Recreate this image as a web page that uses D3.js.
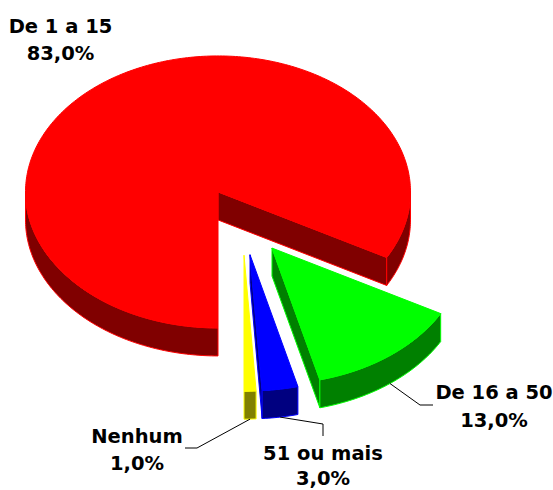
<!DOCTYPE html>
<html>
<head>
<meta charset="utf-8">
<script src="https://cdn.jsdelivr.net/npm/d3@7"></script>
<style>
  html, body { margin: 0; padding: 0; background: #fff; }
  svg { display: block; }
  text { font-family: "DejaVu Sans", sans-serif; font-weight: bold; font-size: 19.5px; fill: #000; }
</style>
</head>
<body>
<script>
// Data
var categories = ["De 1 a 15", "De 16 a 50", "51 ou mais", "Nenhum"];
var values = [83, 13, 3, 1];
var valueLabels = ["83,0%", "13,0%", "3,0%", "1,0%"];
var topColors = ["#ff0000", "#00ff00", "#0000ff", "#ffff00"];
var sideColors = ["#800000", "#008000", "#000080", "#808000"];

var w = 553, h = 490;
var cx = 242.5, cy = 221.2;   // centre of the unexploded pie
var rx = 192.5, ry = 136;     // tilted radii
var depth = 28;
var explode = 0.25;

// where each label goes (x, first baseline, line gap), and the elbow of its leader line
var labelPos = [[60.5, 33, 27], [494, 399, 27.5], [323, 460, 25], [137, 443, 27]];
var leaders = [null, [[420, 405], [433, 405]], [[323, 424], [323, 436]], [[197, 448], [185, 448]]];

var svg = d3.select("body").append("svg")
  .attr("width", w)
  .attr("height", h);

// d3.pie: first slice starts at the bottom, going clockwise
var pie = d3.pie().sort(null).startAngle(Math.PI).endAngle(3 * Math.PI);
var slices = pie(values);

function px(a) { return Math.sin(a) * rx; }
function py(a) { return -Math.cos(a) * ry; }

// sample the rim between two angles
function rim(a0, a1, ox, oy) {
  var n = Math.max(2, Math.ceil(Math.abs(a1 - a0) * 60));
  return d3.range(n + 1).map(function(i) {
    var a = a0 + (a1 - a0) * i / n;
    return [ox + px(a), oy + py(a)];
  });
}

var line = d3.line();

// front part of the outer wall: angles where the rim faces the viewer
function wallParts(a0, a1) {
  var parts = [];
  [[Math.PI / 2, 3 * Math.PI / 2], [5 * Math.PI / 2, 7 * Math.PI / 2]].forEach(function(r) {
    var s = Math.max(a0, r[0]), e = Math.min(a1, r[1]);
    if (e > s) parts.push([s, e]);
  });
  return parts;
}

slices.forEach(function(d, i) {
  var mid = (d.startAngle + d.endAngle) / 2;
  d.ox = cx + explode * px(mid);
  d.oy = cy + explode * py(mid);
});

var g = svg.selectAll("g.slice")
  .data(slices)
  .enter()
  .append("g")
  .attr("class", "slice");

g.each(function(d, i) {
  var s = d3.select(this);

  // cut faces, only the ones turned to the viewer
  [[d.endAngle, Math.sin(d.endAngle) > 0], [d.startAngle, Math.sin(d.startAngle) < -1e-6]].forEach(function(f) {
    if (!f[1]) return;
    var ex = d.ox + px(f[0]), ey = d.oy + py(f[0]);
    s.append("path")
      .attr("d", line([[d.ox, d.oy], [ex, ey], [ex, ey + depth], [d.ox, d.oy + depth]]) + "Z")
      .attr("fill", sideColors[i])
      .attr("stroke", topColors[i])
      .attr("stroke-width", 1);
  });

  // outer wall
  wallParts(d.startAngle, d.endAngle).forEach(function(p) {
    var top = rim(p[0], p[1], d.ox, d.oy);
    var bottom = rim(p[1], p[0], d.ox, d.oy + depth);
    s.append("path")
      .attr("d", line(top.concat(bottom)) + "Z")
      .attr("fill", sideColors[i])
      .attr("stroke", topColors[i])
      .attr("stroke-width", 1);
  });

  // top face
  var pts = [[d.ox, d.oy]].concat(rim(d.startAngle, d.endAngle, d.ox, d.oy));
  s.append("path")
    .attr("d", line(pts) + "Z")
    .attr("fill", topColors[i])
    .attr("stroke", topColors[i])
    .attr("stroke-width", 1);
});

// leader lines start on the bottom rim at the slice's middle angle
slices.forEach(function(d, i) {
  if (!leaders[i]) return;
  var mid = (d.startAngle + d.endAngle) / 2;
  var start = [d.ox + px(mid), d.oy + py(mid) + depth];
  svg.append("path")
    .attr("d", line([start].concat(leaders[i])))
    .attr("fill", "none")
    .attr("stroke", "#000")
    .attr("stroke-width", 1);
});

// labels
categories.forEach(function(c, i) {
  var t = svg.append("text")
    .attr("text-anchor", "middle")
    .attr("x", labelPos[i][0])
    .attr("y", labelPos[i][1]);
  t.append("tspan").attr("x", labelPos[i][0]).text(c);
  t.append("tspan").attr("x", labelPos[i][0]).attr("dy", labelPos[i][2]).text(valueLabels[i]);
});
</script>
</body>
</html>
